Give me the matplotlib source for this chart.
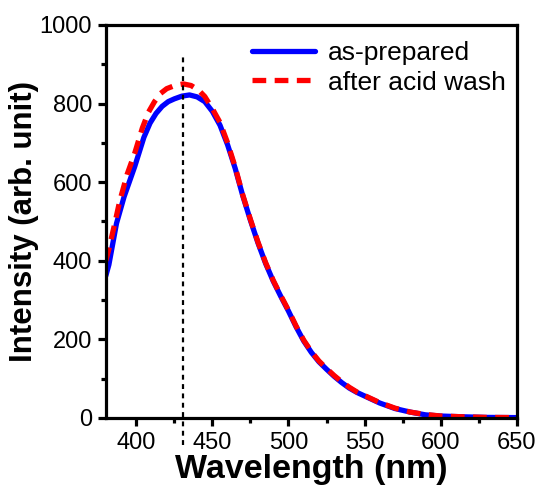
import numpy as np
import matplotlib.pyplot as plt
from matplotlib.ticker import MultipleLocator

# Datos (longitud de onda en nm, intensidad arb.)
wl_blue = [380, 382, 387, 392, 399, 405, 409, 413, 417, 421, 425, 430, 435,
           440, 445, 450, 455, 460, 465, 470, 475, 480, 485, 490, 495, 500,
           505, 510, 515, 520, 525, 530, 535, 540, 545, 550, 555, 560, 570,
           580, 590, 600, 615, 630, 650]
int_blue = [362, 390, 495, 563, 640, 714, 750, 775, 793, 805, 812, 819, 822,
            817, 805, 780, 745, 695, 635, 565, 503, 445, 393, 348, 309, 272,
            232, 196, 167, 143, 124, 106, 90, 76, 65, 56, 47, 38, 24,
            15, 8, 5, 3, 1.5, 1]

wl_red = [380, 382, 386, 389, 394, 399, 404, 408, 412, 416, 420, 426, 431,
          436, 441, 445, 450, 455, 460, 465, 470, 475, 480, 485, 490, 495,
          500, 505, 510, 515, 520, 525, 530, 535, 540, 545, 550, 555, 560,
          570, 580, 590, 600, 615, 630, 650]
int_red = [400, 430, 497, 550, 620, 674, 738, 778, 805, 826, 838, 847, 850,
           846, 834, 818, 787, 752, 700, 638, 567, 505, 447, 395, 350, 311,
           274, 234, 198, 169, 145, 126, 108, 92, 78, 66, 57, 48, 39,
           25, 15, 9, 5, 3, 1.5, 1]

peak_wl = 431
labels = ['as-prepared', 'after acid wash']

plt.rcParams['font.family'] = ['Liberation Sans', 'DejaVu Sans']

fig = plt.figure(figsize=(5.4, 4.87), dpi=100)
ax = fig.add_axes([0.196, 0.1417, 0.761, 0.807])

ax.plot(wl_blue, int_blue, color='#0000ff', lw=3.8, label=labels[0],
        solid_capstyle='round', solid_joinstyle='round')
ax.plot(wl_red, int_red, color='#ff0000', lw=3.8, ls=(0, (2.6, 1.6)),
        label=labels[1], dash_joinstyle='round')

# linea vertical punteada en el maximo
ax.axvline(peak_wl, ymin=-0.069, ymax=0.924, color='black', lw=1.6,
           ls=(0, (2.2, 2.0)), clip_on=False)

ax.set_xlim(380, 650)
ax.set_ylim(0, 1000)
ax.xaxis.set_major_locator(MultipleLocator(50))
ax.xaxis.set_minor_locator(MultipleLocator(25))
ax.yaxis.set_major_locator(MultipleLocator(200))
ax.yaxis.set_minor_locator(MultipleLocator(100))

for s in ax.spines.values():
    s.set_linewidth(2.3)
ax.tick_params(which='major', direction='out', length=6, width=2.3,
               labelsize=17, pad=4)
ax.tick_params(which='minor', direction='out', length=3.5, width=2.3)

ax.set_xlabel('Wavelength (nm)', fontsize=24.5, fontweight='bold', labelpad=0)
ax.set_ylabel('Intensity (arb. unit)', fontsize=22.5, fontweight='bold',
              labelpad=0)

leg = ax.legend(loc='upper right', fontsize=19, frameon=False,
                handlelength=2.4, handletextpad=0.5, labelspacing=0.2,
                borderaxespad=0.0, bbox_to_anchor=(1.0, 0.985))

fig.savefig('out.png', dpi=100)
